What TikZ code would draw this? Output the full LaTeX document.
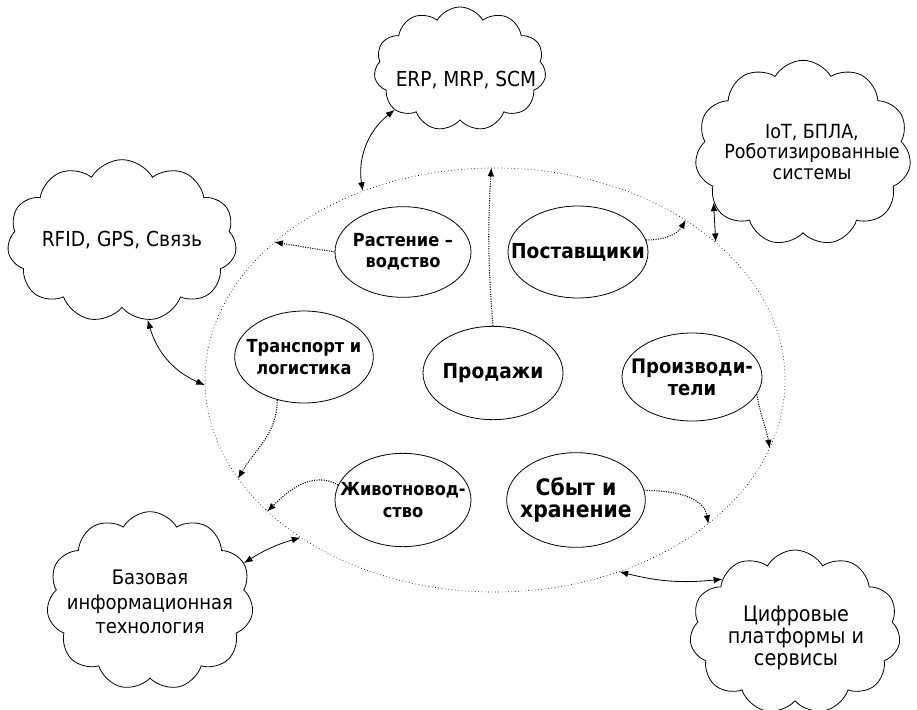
\documentclass[tikz,border=0pt]{standalone}
\usepackage{fontspec}
\setmainfont{DejaVu Sans Condensed}
\usetikzlibrary{shapes.geometric,shapes.symbols,arrows.meta}
\begin{document}
\begin{tikzpicture}[x=0.75pt,y=0.75pt,
  cloudbox/.style={cloud, cloud puffs=11, cloud puff arc=120, cloud ignores aspect, draw, line width=0.6pt, inner sep=0pt},
  cloudtext/.style={inner sep=0pt, align=center},
  inner/.style={ellipse, draw, line width=0.6pt, inner sep=0pt},
  innertext/.style={inner sep=0pt, align=center, font=\fontsize{13.5}{16}\selectfont\bfseries},
  bigtext/.style={inner sep=0pt, align=center, font=\fontsize{15.5}{16.5}\selectfont\bfseries},
  big/.style={ellipse, draw, dotted, line width=0.5pt, inner sep=0pt},
  link/.style={{Latex[length=6.5pt,width=5pt]}-{Latex[length=6.5pt,width=5pt]}, line width=0.6pt},
  flow/.style={-{Latex[length=6.5pt,width=5pt]}, densely dotted, line width=0.8pt}]
\useasboundingbox (0,0) rectangle (917,-710);
% big ellipse
\node[big, minimum width=435pt, minimum height=318pt] (E) at (495,-380) {};
% inner ellipses
\node[inner, minimum width=102pt, minimum height=68pt] (rast) at (403,-252) {};
\node[inner, minimum width=105pt, minimum height=69pt] (post) at (578,-252) {};
\node[inner, minimum width=104pt, minimum height=69pt] (trans) at (304,-357) {};
\node[inner, minimum width=105pt, minimum height=70pt] (prod) at (493,-373) {};
\node[inner, minimum width=105pt, minimum height=66pt] (proizv) at (692,-377) {};
\node[inner, minimum width=102pt, minimum height=70pt] (zhiv) at (403,-500) {};
\node[inner, minimum width=104pt, minimum height=71pt] (sbyt) at (576,-500) {};
\node[innertext] (rastt) at (rast) {Растение –\\водство};
\node[bigtext] (postt) at (post) {Поставщики};
\node[innertext] (transt) at (trans) {Транспорт и\\логистика};
\node[bigtext] (prodt) at (prod) {Продажи};
\node[bigtext, font=\fontsize{15}{16.5}\selectfont\bfseries] (proizvt) at (proizv) {Производи-\\тели};
\node[innertext] (zhivt) at (zhiv) {Животновод-\\ство};
\node[bigtext, font=\fontsize{17}{16.5}\selectfont\bfseries] (sbytt) at (sbyt) {Сбыт и\\хранение};
% clouds
\node[cloudbox, minimum width=129pt, minimum height=93pt] (erp) at (460,-69) {};
\node[cloudbox, minimum width=162pt, minimum height=139pt] (iot) at (803,-153) {};
\node[cloudbox, minimum width=172pt, minimum height=122pt] (rfid) at (122,-241) {};
\node[cloudbox, minimum width=155pt, minimum height=134pt] (base) at (150,-601) {};
\node[cloudbox, minimum width=158pt, minimum height=123pt] (dig) at (795,-632) {};
\node[cloudtext, font=\fontsize{15.5}{18}\selectfont] (erpt) at (466,-80) {ERP, MRP, SCM};
\node[cloudtext, font=\fontsize{14.6}{15.5}\selectfont] (iott) at (812,-152) {IoT, БПЛА,\\Роботизированные\\системы};
\node[cloudtext, font=\fontsize{15.5}{17}\selectfont] (rfidt) at (122,-240) {RFID, GPS, Связь};
\node[cloudtext, font=\fontsize{15}{18.3}\selectfont] (baset) at (150,-602) {Базовая\\информационная\\технология};
\node[cloudtext, font=\fontsize{16}{16.2}\selectfont] (digt) at (796,-638) {Цифровые\\платформы и\\сервисы};
% solid double-headed connectors
\draw[link] (erp.212) to[bend right=30] (E.125.7);
\draw[link] (iot.209) -- (E.32);
\draw[link] (rfid.288) to[bend right=25] (E.181.6);
\draw[link] (base.22) to[bend left=8] (E.219);
\draw[link] (dig.144) to[bend left=10] (E.303);
% dotted flow arrows
\draw[flow] (rast.west) -- (E.148.7);
\draw[flow] (prod.north) to[bend left=4] (E.91);
\draw[flow] (post.10) to[out=0,in=240] (E.40);
\draw[flow] (trans.238) to[out=-90,in=60] (E.201);
\draw[flow] (zhiv.167) to[out=150,in=45] (E.210.2);
\draw[flow] (proizv.345) to[out=-80,in=100] (E.346);
\draw[flow] (sbyt.8) to[out=0,in=100] (E.326.7);
\end{tikzpicture}
\end{document}
